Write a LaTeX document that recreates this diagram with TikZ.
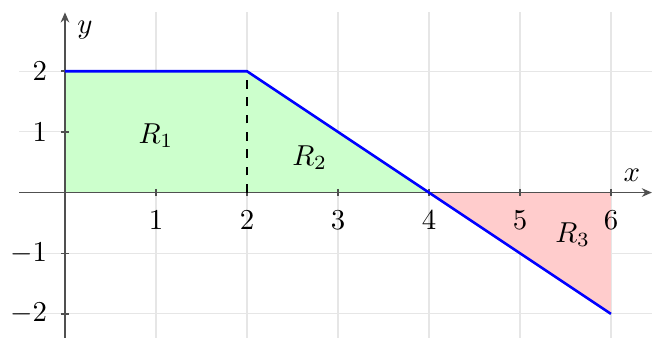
\documentclass[tikz,border=0pt]{standalone}
\usepackage{tikz}
\usetikzlibrary{arrows.meta}
\definecolor{gridGray}{HTML}{E6E6E6}
\definecolor{axisGray}{HTML}{505050}

\begin{document}
\begin{tikzpicture}[
    x=1.11cm, y=0.74cm,
    gridline/.style={gridGray, line width=0.4pt},
    axisline/.style={axisGray, line width=0.6pt},
    tick/.style={axisGray, line width=0.5pt},
    curve/.style={blue, line width=0.9pt},
    >={Stealth[length=3.5pt, width=3pt]}
  ]
  \useasboundingbox (-0.714, -2.397) rectangle (6.451, 3.174);

  % ── Grid ────────────────────────────────────────────────────────────────
  \foreach \x in {1,...,6} \draw[gridline] (\x, -2.4) -- (\x, 2.98);
  \foreach \y in {-2,-1,1,2} \draw[gridline] (-0.5, \y) -- (6.45, \y);

  % ── Regions ─────────────────────────────────────────────────────────────
  \fill[green!20] (0,0) -- (0,2) -- (2,2) -- (4,0) -- cycle;
  \fill[red!20] (4,0) -- (6,-2) -- (6,0) -- cycle;

  % ── Axes ────────────────────────────────────────────────────────────────
  \coordinate (xstart) at (-0.5, 0);
  \coordinate (xend)   at (6.45, 0);
  \coordinate (ystart) at (0, -2.4);
  \coordinate (yend)   at (0, 2.97);
  \draw[axisline, ->] (xstart) -- (xend);
  \draw[axisline, ->] (ystart) -- (yend);
  \node (xlab) at (6.23, 0.28) {$x$};
  \node (ylab) at (0.22, 2.68) {$y$};

  % Ticks and labels
  \foreach \x in {1,...,6} {
    \draw[tick] (\x, 0.06) -- (\x, -0.06);
    \node[anchor=north, inner sep=0pt] (xt\x) at (\x, -0.29) {$\x$};
  }
  \foreach \y in {-2,-1,1,2} {
    \draw[tick] (-0.04, \y) -- (0.04, \y);
    \node[anchor=east, inner sep=0pt] (yt\y) at (-0.19, \y) {$\y$};
  }

  % ── Function and split ──────────────────────────────────────────────────
  \coordinate (p0) at (0, 2);
  \coordinate (p1) at (2, 2);
  \coordinate (p2) at (4, 0);
  \coordinate (p3) at (6, -2);
  \coordinate (p1base) at (2, 0);
  \draw[thick, dashed] (p1base) -- (p1);
  \draw[curve] (p0) -- (p1) -- (p2) -- (p3);

  \node (r1) at (1.0, 0.94)   {$R_1$};
  \node (r2) at (2.69, 0.58)  {$R_2$};
  \node (r3) at (5.58, -0.69) {$R_3$};

\end{tikzpicture}
\end{document}
